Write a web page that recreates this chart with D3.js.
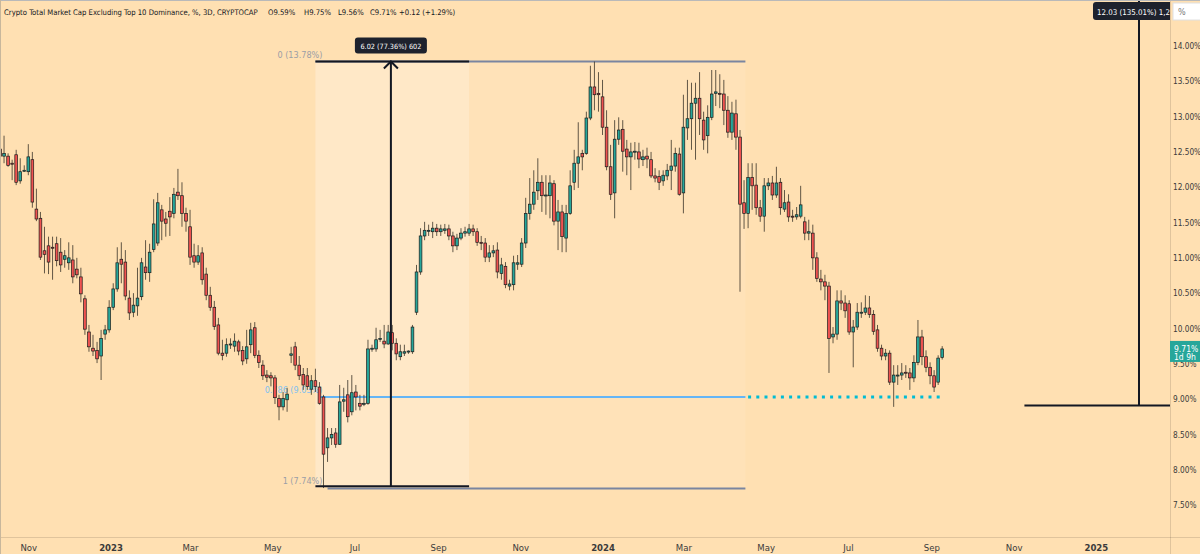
<!DOCTYPE html>
<html>
<head>
<meta charset="utf-8">
<script src="https://cdn.jsdelivr.net/npm/d3@7/dist/d3.min.js"></script>
<style>
html,body{margin:0;padding:0;background:#FFE0B2;overflow:hidden;}
svg{display:block;}
text{font-family:"Liberation Sans Narrow","DejaVu Sans Condensed","Liberation Sans",Arial,sans-serif;}
</style>
</head>
<body>
<svg id="chart" width="1200" height="554"></svg>
<script>
// ---------------- DATA ----------------
const titleText = "Crypto Total Market Cap Excluding Top 10 Dominance, %, 3D, CRYPTOCAP";
const legendValues = ["O9.59%", "H9.75%", "L9.56%", "C9.71%", "+0.12 (+1.29%)"];
const firstBarDate = "2022-10-11";
const barDays = 3;

const opens = [12.54,12.44,12.44,12.34,12.46,12.09,12.23,12.22,12.39,11.69,
11.56,11.10,11.17,11.15,11.20,11.08,10.98,10.93,10.97,10.84,
10.73,10.42,9.95,9.72,9.69,9.61,9.92,9.98,10.30,10.56,
10.98,10.94,10.43,10.23,10.32,10.45,10.87,10.79,11.12,11.21,
11.68,11.55,11.66,11.63,11.93,11.88,11.63,11.44,11.03,10.94,
11.07,10.77,10.47,10.30,10.05,9.65,9.65,9.77,9.75,9.81,
9.69,9.57,9.77,10.01,9.62,9.48,9.34,9.33,9.30,9.01,
8.89,8.99,9.62,9.74,9.48,9.35,9.33,9.14,9.26,9.17,
9.03,8.31,8.45,8.52,8.36,8.97,9.06,8.82,9.10,8.94,
8.93,8.94,9.71,9.71,9.85,9.82,9.78,9.94,9.79,9.60,
9.65,9.67,9.67,10.23,10.80,11.31,11.38,11.37,11.42,11.37,
11.39,11.41,11.31,11.17,11.28,11.35,11.35,11.41,11.37,11.22,
11.21,11.01,11.07,11.11,10.78,10.88,10.60,10.62,10.91,10.91,
11.21,11.63,11.76,11.95,12.07,11.88,11.88,12.05,11.52,11.65,
11.28,11.63,12.07,12.34,12.48,12.48,12.98,13.42,13.33,13.28,
12.85,12.29,11.92,12.68,12.82,12.54,12.43,12.50,12.50,12.39,
12.44,12.39,12.16,12.15,12.09,12.16,12.24,12.30,12.47,11.92,
12.84,12.97,13.19,13.26,12.95,12.73,12.99,13.33,13.33,13.32,
13.09,12.78,13.04,12.71,11.78,11.63,12.14,12.03,11.71,11.59,
12.02,12.06,11.89,12.07,11.69,11.79,11.59,11.58,11.59,11.51,
11.35,11.35,11.00,10.70,10.66,10.60,9.88,9.92,10.39,10.36,
10.35,9.95,10.02,10.22,10.23,10.29,10.20,9.98,9.72,9.61,
9.65,9.24,9.33,9.34,9.38,9.37,9.30,9.52,9.88,9.60,
9.45,9.33,9.24,9.59];

const highs = [12.60,12.73,12.48,12.39,12.53,12.41,12.31,12.61,12.50,11.98,
11.65,11.44,11.30,11.30,11.30,11.28,11.11,11.22,11.18,11.00,
10.86,10.47,10.05,9.91,9.81,9.98,10.05,10.40,10.64,11.15,
11.22,11.11,10.54,10.50,10.86,11.00,11.25,11.20,11.83,11.92,
11.75,11.65,11.86,11.99,12.26,12.07,11.71,11.68,11.20,11.18,
11.15,10.86,10.59,10.39,10.15,9.84,9.86,9.86,9.93,9.84,
9.75,9.98,10.08,10.09,9.69,9.55,9.41,9.38,9.34,9.06,
9.10,9.16,9.74,9.81,9.61,9.44,9.44,9.34,9.43,9.24,
9.06,8.59,8.59,8.59,9.20,9.16,9.27,9.34,9.20,9.06,
9.06,9.84,9.77,10.01,9.98,10.05,10.05,10.05,9.86,9.77,
9.77,9.69,10.05,10.90,11.42,11.51,11.47,11.51,11.48,11.47,
11.48,11.47,11.37,11.34,11.42,11.44,11.48,11.47,11.42,11.31,
11.28,11.18,11.18,11.22,11.00,10.94,10.69,11.03,11.04,11.28,
11.85,12.13,12.24,12.41,12.17,12.17,12.17,12.10,11.82,11.75,
11.75,12.24,12.53,12.92,12.53,13.07,13.72,13.78,13.63,13.52,
13.09,12.60,12.95,12.99,12.95,12.67,12.63,12.64,12.63,12.53,
12.56,12.50,12.27,12.24,12.24,12.33,12.67,12.56,12.56,13.31,
13.52,13.48,13.48,13.63,13.07,13.16,13.66,13.66,13.60,13.52,
13.29,13.21,13.24,12.81,12.10,12.34,12.34,12.34,11.82,12.13,
12.13,12.16,12.29,12.13,11.96,11.90,11.68,11.72,12.02,11.58,
11.54,11.47,11.08,10.83,10.76,10.66,10.02,10.54,10.54,10.47,
10.40,10.12,10.36,10.37,10.47,10.46,10.26,10.05,9.77,9.71,
9.69,9.48,9.48,9.51,9.48,9.44,9.62,10.12,9.98,9.69,
9.52,9.41,9.62,9.75];

const lows = [12.20,12.34,12.29,12.10,12.03,12.05,12.22,12.17,11.71,11.52,
10.97,10.78,10.77,10.69,10.88,10.80,10.86,10.83,10.64,10.71,
10.37,9.91,9.67,9.61,9.51,9.27,9.84,9.94,10.26,10.52,
10.64,10.40,10.12,10.16,10.18,10.40,10.69,10.66,11.08,11.17,
11.25,11.30,11.31,11.56,11.82,11.44,11.37,10.90,10.86,10.90,
10.62,10.40,10.25,9.98,9.62,9.55,9.60,9.71,9.67,9.62,
9.48,9.50,9.65,9.58,9.44,9.27,9.24,9.18,8.93,8.70,
8.84,8.82,9.51,9.41,9.27,9.13,9.13,9.06,9.10,8.92,
7.74,8.11,8.35,8.31,8.35,8.82,8.67,8.77,8.84,8.84,
8.90,8.92,9.67,9.67,9.81,9.72,9.77,9.69,9.55,9.55,
9.61,9.64,9.64,10.19,10.76,11.25,11.31,11.28,11.31,11.31,
11.34,11.25,11.08,11.11,11.25,11.30,11.31,11.31,11.17,11.11,
10.94,10.94,11.01,10.71,10.69,10.57,10.54,10.54,10.83,10.87,
11.14,11.54,11.68,11.82,11.65,11.61,11.56,11.46,11.11,11.08,
11.08,11.61,11.96,11.99,12.24,12.46,12.95,13.09,13.07,12.74,
12.24,11.82,11.56,12.60,12.22,12.17,11.96,12.39,12.27,12.30,
12.27,12.13,12.07,11.96,12.02,12.10,11.96,12.22,11.88,11.63,
12.67,12.53,12.39,12.74,12.53,12.48,12.95,13.15,13.12,12.88,
12.70,12.67,12.53,10.52,11.41,11.42,11.68,11.61,11.51,11.37,
11.96,11.82,11.85,11.61,11.65,11.51,11.51,11.54,11.56,11.25,
11.25,10.83,10.66,10.54,10.40,9.37,9.79,9.84,10.26,10.15,
9.91,9.45,9.98,10.15,10.19,10.15,9.91,9.67,9.55,9.55,
9.20,8.89,9.20,9.27,9.30,9.13,9.24,9.48,9.48,9.38,
9.21,9.10,9.20,9.56];

const closes = [12.44,12.48,12.31,12.33,12.07,12.22,12.24,12.43,11.79,11.55,
11.01,11.05,10.94,11.14,10.96,10.90,11.03,11.00,10.73,10.76,
10.49,9.99,9.74,9.68,9.57,9.86,9.98,10.30,10.56,10.93,
10.91,10.46,10.22,10.33,10.43,10.93,10.79,11.08,11.48,11.78,
11.52,11.49,11.58,11.90,11.88,11.63,11.52,11.01,10.94,11.03,
10.69,10.47,10.30,10.03,9.65,9.62,9.77,9.78,9.82,9.68,
9.54,9.74,9.98,9.62,9.52,9.33,9.31,9.30,9.02,8.89,
9.01,9.07,9.64,9.48,9.33,9.20,9.18,9.26,9.18,8.94,
8.22,8.45,8.50,8.36,8.96,8.99,8.75,9.09,9.03,8.90,
8.94,9.71,9.72,9.84,9.86,9.78,9.95,9.79,9.64,9.67,
9.67,9.68,10.02,10.80,11.31,11.39,11.39,11.42,11.37,11.41,
11.41,11.31,11.17,11.28,11.35,11.37,11.41,11.37,11.22,11.21,
11.01,11.07,11.10,10.80,10.90,10.62,10.63,10.93,10.93,11.21,
11.63,11.76,11.93,12.07,11.88,11.89,12.06,11.52,11.65,11.30,
11.63,12.02,12.34,12.43,12.43,12.98,13.42,13.31,13.31,12.85,
12.29,11.90,12.68,12.81,12.51,12.43,12.50,12.51,12.40,12.43,
12.40,12.16,12.13,12.07,12.17,12.24,12.30,12.48,11.90,12.85,
12.97,13.19,13.26,12.97,12.67,12.99,13.32,13.35,13.32,13.09,
12.78,13.05,12.71,11.76,11.63,12.14,12.02,11.71,11.59,12.02,
12.06,11.89,12.06,11.71,11.78,11.58,11.58,11.61,11.75,11.35,
11.37,11.00,10.71,10.66,10.60,9.86,9.92,10.39,10.36,10.25,
9.95,10.02,10.23,10.23,10.29,10.20,9.96,9.72,9.61,9.65,
9.24,9.34,9.34,9.37,9.37,9.30,9.52,9.88,9.60,9.45,
9.33,9.17,9.58,9.71];

const priceTicks = [14, 13.5, 13, 12.5, 12, 11.5, 11, 10.5, 10, 9.5, 9, 8.5, 8, 7.5];
const timeTickDates = ["2022-11-01","2023-01-01","2023-03-01","2023-05-01","2023-07-01","2023-09-01","2023-11-01",
                       "2024-01-01","2024-03-01","2024-05-01","2024-07-01","2024-09-01","2024-11-01","2025-01-01"];
const timeTickLabels = ["Nov","2023","Mar","May","Jul","Sep","Nov","2024","Mar","May","Jul","Sep","Nov","2025"];

// Fibonacci retracement (levels, prices, labels) and its time span
const fibLevels = [0, 0.786, 1];
const fibPrices = [13.78, 9.03, 7.74];
const fibLabels = ["0 (13.78%)", "0.786 (9.03%)", "1 (7.74%)"];
const fibSpan = ["2023-06-02", "2024-04-16"];
const fibLowStart = "2023-06-11";
const raySpan = ["2024-04-18", "2024-09-10"];

// Price-range measure (left) and second measure (right)
const measureDates = ["2023-06-02", "2023-07-28", "2023-09-24"];
const measurePrices = [13.78, 7.765];
const measureLabel = "6.02 (77.36%) 602";
const measure2Dates = ["2024-11-09", "2025-02-02"];
const measure2Base = 8.91;
const measure2Label = "12.03 (135.01%) 1,2";

const lastPrice = 9.71;
const lastPriceLabels = ["9.71%", "1d 9h"];

// ---------------- CHART ----------------
const W = 1200, H = 554, plotR = 1170, plotB = 537;
const BG = "#FFE0B2", UP = "#26A69A", DOWN = "#EF5350";
const svg = d3.select("#chart");
const parse = d3.utcParse("%Y-%m-%d");

const x = d3.scaleUtc().domain([parse("2022-10-11"), parse("2025-02-25")]).range([0, plotR]);
const y = d3.scaleLinear().domain([7.5, 14]).range([505, 46]);

const start = parse(firstBarDate);
const bars = opens.map((o, i) => ({
  date: d3.utcDay.offset(start, i * barDays),
  o, h: highs[i], l: lows[i], c: closes[i]
}));

function fit(sel, w) {
  const cur = sel.node().getComputedTextLength();
  sel.attr("font-size", (parseFloat(sel.attr("font-size")) * w / cur).toFixed(2));
}

svg.append("rect").attr("width", W).attr("height", H).attr("fill", BG);

const defs = svg.append("defs");
defs.append("clipPath").attr("id", "plot").append("rect").attr("x", 0).attr("y", 0).attr("width", plotR).attr("height", plotB);

const plot = svg.append("g").attr("clip-path", "url(#plot)");

// fib zone shading + measure box shading
const fx0 = x(parse(fibSpan[0])), fx1 = x(parse(fibSpan[1]));
plot.append("rect").attr("x", fx0).attr("width", fx1 - fx0)
  .attr("y", y(fibPrices[0])).attr("height", y(fibPrices[2]) - y(fibPrices[0]))
  .attr("fill", "rgba(255,255,255,0.08)");
const mx0 = x(parse(measureDates[0])), mxm = x(parse(measureDates[1])), mx1 = x(parse(measureDates[2]));
plot.append("rect").attr("x", mx0).attr("width", mx1 - mx0)
  .attr("y", y(measurePrices[0])).attr("height", y(measurePrices[1]) - y(measurePrices[0]))
  .attr("fill", "rgba(255,255,255,0.22)");

// fib lines
plot.append("line").attr("x1", fx0).attr("x2", fx1).attr("y1", y(fibPrices[0])).attr("y2", y(fibPrices[0]))
  .attr("stroke", "#7A85A0").attr("stroke-width", 2);
plot.append("line").attr("x1", x(parse(fibLowStart))).attr("x2", fx1).attr("y1", y(fibPrices[2]) + 0.5).attr("y2", y(fibPrices[2]) + 0.5)
  .attr("stroke", "#7A85A0").attr("stroke-width", 2);
plot.append("line").attr("x1", fx0 + 4).attr("x2", fx1).attr("y1", y(fibPrices[1])).attr("y2", y(fibPrices[1]))
  .attr("stroke", "#64B5F6").attr("stroke-width", 2);

// fib labels
const fibLabelColors = ["#9B9EA6", "#7FC0F0", "#9B9EA6"];
fibLabels.forEach((t, i) => {
  plot.append("text").attr("x", fx0 + 7).attr("y", y(fibPrices[i]) - 4)
    .attr("text-anchor", "end").attr("font-size", 9).attr("fill", fibLabelColors[i]).text(t);
});

// dotted ray at 0.786
plot.append("line").attr("x1", x(parse(raySpan[0]))).attr("x2", x(parse(raySpan[1])))
  .attr("y1", y(fibPrices[1])).attr("y2", y(fibPrices[1]))
  .attr("stroke", "#00BCD4").attr("stroke-width", 3).attr("stroke-dasharray", "3,5.2");

// candles
const bw = 2.7;
plot.append("g").selectAll("line").data(bars).join("line")
  .attr("x1", d => x(d.date)).attr("x2", d => x(d.date))
  .attr("y1", d => y(d.h)).attr("y2", d => y(d.l))
  .attr("stroke", "#3A3328").attr("stroke-opacity", 0.8).attr("stroke-width", 1);
plot.append("g").selectAll("rect").data(bars).join("rect")
  .attr("x", d => x(d.date) - bw / 2).attr("width", bw)
  .attr("y", d => y(Math.max(d.o, d.c)))
  .attr("height", d => Math.max(1, Math.abs(y(d.o) - y(d.c))))
  .attr("fill", d => d.c >= d.o ? UP : DOWN)
  .attr("stroke", "#1B1B1B").attr("stroke-width", 0.7);

// measure tool (left)
const my0 = y(measurePrices[0]), my1 = y(measurePrices[1]);
plot.append("line").attr("x1", mx0).attr("x2", mx1).attr("y1", my0).attr("y2", my0).attr("stroke", "#131722").attr("stroke-width", 2);
plot.append("line").attr("x1", mx0).attr("x2", mx1).attr("y1", my1).attr("y2", my1).attr("stroke", "#131722").attr("stroke-width", 2);
plot.append("line").attr("x1", mxm).attr("x2", mxm).attr("y1", my0).attr("y2", my1).attr("stroke", "#131722").attr("stroke-width", 2);
plot.append("path").attr("d", `M${mxm - 7},${my0 + 7}L${mxm},${my0}L${mxm + 7},${my0 + 7}`)
  .attr("fill", "none").attr("stroke", "#131722").attr("stroke-width", 2);
const lbl = plot.append("g");
const lblRect = lbl.append("rect").attr("y", my0 - 24).attr("height", 16).attr("rx", 3).attr("fill", "#1E222D");
const lblText = lbl.append("text").attr("x", mxm).attr("y", my0 - 12.5).attr("text-anchor", "middle")
  .attr("font-size", 10).attr("fill", "#fff").text(measureLabel);
fit(lblText, 61);
lblRect.attr("x", mxm - 36).attr("width", 72);

// measure tool (right)
const m2x0 = x(parse(measure2Dates[0])), m2xm = x(parse(measure2Dates[1]));
const m2y = y(measure2Base);
plot.append("line").attr("x1", m2x0).attr("x2", plotR).attr("y1", m2y).attr("y2", m2y).attr("stroke", "#131722").attr("stroke-width", 2);
plot.append("line").attr("x1", m2xm).attr("x2", m2xm).attr("y1", m2y).attr("y2", 0).attr("stroke", "#131722").attr("stroke-width", 2);
plot.append("rect").attr("x", m2xm - 46).attr("y", 2).attr("width", plotR - (m2xm - 46) + 4).attr("height", 18).attr("rx", 3).attr("fill", "#1E222D");
const m2t = plot.append("text").attr("x", m2xm - 42).attr("y", 15).attr("font-size", 10).attr("fill", "#fff").text(measure2Label);
fit(m2t, plotR - (m2xm - 42));

// borders
svg.append("line").attr("x1", 0).attr("x2", W).attr("y1", plotB + 0.5).attr("y2", plotB + 0.5).attr("stroke", "rgba(0,0,0,0.12)");
svg.append("line").attr("x1", plotR + 0.5).attr("x2", plotR + 0.5).attr("y1", 0).attr("y2", H).attr("stroke", "rgba(0,0,0,0.12)");
svg.append("line").attr("x1", 0).attr("x2", W).attr("y1", 0.5).attr("y2", 0.5).attr("stroke", "#B9B9B9");
svg.append("line").attr("x1", 0.5).attr("x2", 0.5).attr("y1", 0).attr("y2", H).attr("stroke", "#C8B79C");

// right price axis
const yAxis = d3.axisRight(y).tickValues(priceTicks).tickSize(0).tickPadding(3).tickFormat(d => d.toFixed(2) + "%");
const ya = svg.append("g").attr("transform", `translate(${plotR},0)`).call(yAxis);
ya.select(".domain").remove();
ya.selectAll("text").attr("font-size", 8.2).attr("fill", "#3B3B3B").style("font-family", null);

// "%" box
svg.append("rect").attr("x", plotR + 3).attr("y", 3).attr("width", 40).attr("height", 17).attr("fill", "#fff").attr("stroke", "#E0E0E0");
svg.append("text").attr("x", plotR + 8).attr("y", 15).attr("font-size", 9).attr("fill", "#777").text("%");

// last price label
const ly = y(lastPrice);
svg.append("rect").attr("x", plotR).attr("y", ly - 8).attr("width", 30).attr("height", 21).attr("fill", UP);
svg.append("text").attr("x", plotR + 4).attr("y", ly + 3).attr("font-size", 8.5).attr("fill", "#fff").text(lastPriceLabels[0]);
svg.append("text").attr("x", plotR + 4).attr("y", ly + 11.5).attr("font-size", 8.5).attr("fill", "#fff").text(lastPriceLabels[1]);

// bottom time axis
const xa = svg.append("g").attr("transform", `translate(0,${plotB})`)
  .call(d3.axisBottom(x).tickValues(timeTickDates.map(parse)).tickSize(0).tickPadding(7)
  .tickFormat((d, i) => timeTickLabels[i]));
xa.select(".domain").remove();
xa.selectAll("text").attr("font-size", 9.5).attr("fill", "#3B3B3B").style("font-family", null)
  .attr("font-weight", (d, i) => /^\d{4}$/.test(timeTickLabels[i]) ? "bold" : null);

// legend
const leg = svg.append("g");
const tt = leg.append("text").attr("x", 4).attr("y", 15).attr("font-size", 10).attr("fill", "#131722").text(titleText);
fit(tt, 254);
const legFont = tt.attr("font-size");
const legX = [268, 304, 338, 370, 399];
legendValues.forEach((v, i) => {
  leg.append("text").attr("x", legX[i]).attr("y", 15).attr("font-size", legFont).attr("fill", "#131722").text(v);
});
</script>
</body>
</html>
